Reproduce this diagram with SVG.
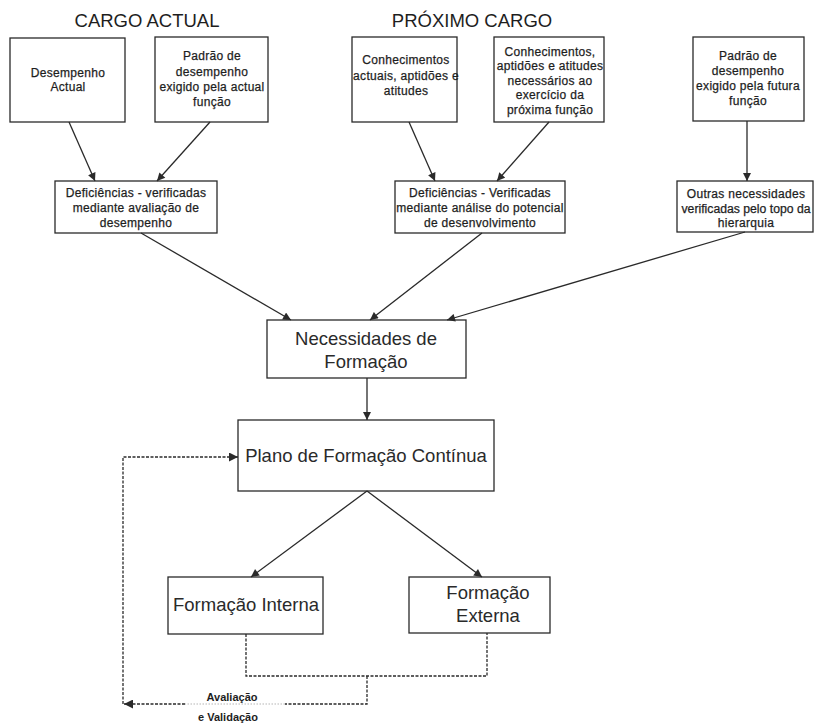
<svg xmlns="http://www.w3.org/2000/svg" width="814" height="724" viewBox="0 0 814 724">
  <style>
    .box { fill: #ffffff; stroke: #2a2a2a; stroke-width: 1.3; }
    .sm { font-family: "Liberation Sans", Arial, sans-serif; font-size: 12px; letter-spacing: 0.3px; fill: #1e1e1e; text-anchor: middle; stroke: #1e1e1e; stroke-width: 0.25; }
    .lg { font-family: "Liberation Sans", Arial, sans-serif; font-size: 18.5px; fill: #2a2a2a; text-anchor: middle; }
    .title { font-family: "Liberation Sans", Arial, sans-serif; font-size: 18.5px; fill: #1e1e1e; text-anchor: middle; }
    .lbl { font-family: "Liberation Sans", Arial, sans-serif; font-size: 11px; font-weight: bold; fill: #1e1e1e; text-anchor: middle; }
    .edge { fill: none; stroke: #2a2a2a; stroke-width: 1.3; }
    .dash { fill: none; stroke: #2a2a2a; stroke-width: 1.3; stroke-dasharray: 3 1.5; }
    .faint { fill: none; stroke: #b5b5b5; stroke-width: 1.2; stroke-dasharray: 1.5 1.5; }
  </style>
  <defs>
    <marker id="arrow" viewBox="0 0 10 10" refX="10" refY="5" markerWidth="9" markerHeight="8" markerUnits="userSpaceOnUse" orient="auto">
      <path d="M0,0 L10,5 L0,10 z" fill="#2a2a2a"/>
    </marker>
    <marker id="arrowBig" viewBox="0 0 10 10" refX="10" refY="5" markerWidth="13" markerHeight="9" markerUnits="userSpaceOnUse" orient="auto">
      <path d="M0,0 L10,5 L0,10 z" fill="#2a2a2a"/>
    </marker>
  </defs>
  <rect width="814" height="724" fill="#ffffff"/>

  <!-- column headings -->
  <text class="title" x="147" y="27">CARGO ACTUAL</text>
  <text class="title" x="472" y="27">PRÓXIMO CARGO</text>

  <g id="desempenho-actual">
    <rect class="box" x="10" y="38" width="115" height="84"/>
    <text class="sm" x="68" y="77">Desempenho</text>
    <text class="sm" x="68" y="91">Actual</text>
  </g>

  <g id="padrao-actual">
    <rect class="box" x="155" y="37" width="113" height="85"/>
    <text class="sm" x="212" y="60">Padrão de</text>
    <text class="sm" x="212" y="75.5">desempenho</text>
    <text class="sm" x="212" y="91">exigido pela actual</text>
    <text class="sm" x="212" y="106">função</text>
  </g>

  <g id="deficiencias-desempenho">
    <rect class="box" x="55" y="181" width="162" height="52"/>
    <text class="sm" x="136" y="197">Deficiências - verificadas</text>
    <text class="sm" x="136" y="212">mediante avaliação de</text>
    <text class="sm" x="136" y="227">desempenho</text>
  </g>

  <g id="conhecimentos-actuais">
    <rect class="box" x="352" y="37" width="105" height="85"/>
    <text class="sm" x="406" y="64">Conhecimentos</text>
    <text class="sm" x="406" y="79.5">actuais, aptidões e</text>
    <text class="sm" x="406" y="95">atitudes</text>
  </g>

  <g id="conhecimentos-necessarios">
    <rect class="box" x="494" y="37" width="110" height="85"/>
    <text class="sm" x="550" y="55.5">Conhecimentos,</text>
    <text class="sm" x="550" y="70">aptidões e atitudes</text>
    <text class="sm" x="550" y="84.5">necessários ao</text>
    <text class="sm" x="550" y="99">exercício da</text>
    <text class="sm" x="550" y="113.5">próxima função</text>
  </g>

  <g id="deficiencias-potencial">
    <rect class="box" x="395" y="181" width="170" height="52"/>
    <text class="sm" x="480" y="197">Deficiências - Verificadas</text>
    <text class="sm" x="480" y="212">mediante análise do potencial</text>
    <text class="sm" x="480" y="227">de desenvolvimento</text>
  </g>

  <g id="padrao-futuro">
    <rect class="box" x="693" y="37" width="111" height="84"/>
    <text class="sm" x="748" y="60">Padrão de</text>
    <text class="sm" x="748" y="75">desempenho</text>
    <text class="sm" x="748" y="90">exigido pela futura</text>
    <text class="sm" x="748" y="105">função</text>
  </g>

  <g id="outras-necessidades">
    <rect class="box" x="677" y="181" width="136" height="51"/>
    <text class="sm" x="746" y="198">Outras necessidades</text>
    <text class="sm" x="746" y="213" textLength="129" lengthAdjust="spacingAndGlyphs" style="letter-spacing:0">verificadas pelo topo da</text>
    <text class="sm" x="746" y="227">hierarquia</text>
  </g>

  <g id="necessidades-formacao">
    <rect class="box" x="267" y="320" width="199" height="58"/>
    <text class="lg" x="366" y="345">Necessidades de</text>
    <text class="lg" x="366" y="368">Formação</text>
  </g>

  <g id="plano-formacao">
    <rect class="box" x="238" y="420" width="256" height="71"/>
    <text class="lg" x="366" y="462">Plano de Formação Contínua</text>
  </g>

  <g id="formacao-interna">
    <rect class="box" x="168" y="577" width="155" height="57"/>
    <text class="lg" x="246" y="611">Formação Interna</text>
  </g>

  <g id="formacao-externa">
    <rect class="box" x="409" y="577" width="141" height="56"/>
    <text class="lg" x="488" y="599">Formação</text>
    <text class="lg" x="488" y="622">Externa</text>
  </g>

  <g id="connectors">
    <path class="edge" d="M69,122 L95,181" marker-end="url(#arrow)"/>
    <path class="edge" d="M210,122 L157,181" marker-end="url(#arrow)"/>
    <path class="edge" d="M409,122 L435,181" marker-end="url(#arrow)"/>
    <path class="edge" d="M549,122 L497,181" marker-end="url(#arrow)"/>
    <path class="edge" d="M747,121 L747,181" marker-end="url(#arrow)"/>
    <path class="edge" d="M141,233 L291,320" marker-end="url(#arrow)"/>
    <path class="edge" d="M482,233 L370,320" marker-end="url(#arrow)"/>
    <path class="edge" d="M745,232 L447,320" marker-end="url(#arrow)"/>
    <path class="edge" d="M367,378 L367,420" marker-end="url(#arrow)"/>
    <path class="edge" d="M367,491 L251,577" marker-end="url(#arrow)"/>
    <path class="edge" d="M367,491 L482,577" marker-end="url(#arrow)"/>

    <!-- feedback loop -->
    <path class="dash" d="M246,634 L246,676 L487,676 L487,633"/>
    <path class="dash" d="M367,676 L367,704 L285,704"/>
    <path class="faint" d="M285,704 L185,704"/>
    <path class="dash" d="M185,704 L124,704" marker-end="url(#arrowBig)"/>
    <path class="dash" d="M123,704 L123,457 L238,457" marker-end="url(#arrowBig)"/>
    <text class="lbl" x="232" y="701">Avaliação</text>
    <text class="lbl" x="228" y="721">e Validação</text>
  </g>
</svg>
